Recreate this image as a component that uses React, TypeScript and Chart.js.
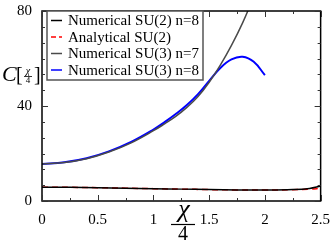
import React, { useEffect, useRef } from "react";
import { Chart, registerables } from "chart.js";

Chart.register(...registerables);

const xSU2 = [0, 0.25, 0.5, 0.75, 1.0, 1.25, 1.5, 1.75, 2.0, 2.25, 2.4, 2.5];
const numSU2n8 = [5.8, 5.75, 5.6, 5.4, 5.2, 5.0, 4.8, 4.65, 4.6, 4.8, 5.3, 6.3];
const anaSU2 = [5.8, 5.75, 5.6, 5.4, 5.2, 5.0, 4.8, 4.65, 4.6, 4.75, 5.0, 5.3];

const xSU3n7 = [0, 0.2, 0.4, 0.6, 0.8, 1.0, 1.1, 1.2, 1.3, 1.4, 1.5, 1.6, 1.7, 1.8, 1.9];
const numSU3n7 = [15.6, 16.2, 17.8, 20.6, 24.5, 29.6, 32.5, 35.6, 39.4, 44, 50, 57.2, 65.5, 75, 86];

const xSU3n8 = [0, 0.2, 0.4, 0.6, 0.8, 1.0, 1.1, 1.2, 1.3, 1.4, 1.5, 1.6, 1.7, 1.8, 1.9, 2.0];
const numSU3n8 = [15.6, 16.3, 18.0, 20.9, 24.9, 30.1, 33.2, 36.6, 40.4, 45, 50.6, 56, 59.6, 60.7, 58.6, 53];

const xTicks = [0, 0.5, 1, 1.5, 2, 2.5];
const yTicks = [0, 40, 80];

const labels = ["Numerical SU(2) n=8", "Analytical SU(2)", "Numerical SU(3) n=7", "Numerical SU(3) n=8"];
const colors = ["#000000", "#ff0000", "#4a4a4a", "#0000ff"];

const SERIF = '"Liberation Serif", "Times New Roman", serif';

const pts = (xs: number[], ys: number[]) => xs.map((x, i) => ({ x, y: ys[i] }));

const decorPlugin = {
  id: "decor",
  afterDatasetsDraw(chart: any) {
    const { ctx, chartArea: a, scales } = chart;
    const xs = scales.x, ys = scales.y;
    ctx.save();
    // frame
    ctx.strokeStyle = "#000";
    ctx.lineWidth = 1.5;
    ctx.strokeRect(a.left, a.top, a.right - a.left, a.bottom - a.top);
    // ticks
    ctx.lineWidth = 1;
    ctx.strokeStyle = "#333";
    const xStep = (xTicks[1] - xTicks[0]) / 2;
    for (let v = xs.min; v <= xs.max + 1e-9; v += xStep) {
      const px = Math.round(xs.getPixelForValue(v)) + 0.5;
      const major = xTicks.some((t) => Math.abs(t - v) < 1e-6);
      const len = major ? 6 : 3;
      ctx.beginPath();
      ctx.moveTo(px, a.bottom); ctx.lineTo(px, a.bottom - len);
      ctx.moveTo(px, a.top); ctx.lineTo(px, a.top + len);
      ctx.stroke();
    }
    const yStep = (yTicks[1] - yTicks[0]) / 6;
    for (let i = 0; i <= 12; i++) {
      const v = ys.min + i * yStep;
      const py = Math.round(ys.getPixelForValue(v)) + 0.5;
      const major = i % 6 === 0;
      const len = major ? 6 : 3;
      ctx.beginPath();
      ctx.moveTo(a.left, py); ctx.lineTo(a.left + len, py);
      ctx.moveTo(a.right, py); ctx.lineTo(a.right - len, py);
      ctx.stroke();
    }
    // legend
    const lx = 47, ly = 11, lw = 156, lh = 69;
    ctx.fillStyle = "#fff";
    ctx.fillRect(lx, ly, lw, lh);
    ctx.strokeStyle = "#555";
    ctx.lineWidth = 1.5;
    ctx.strokeRect(lx, ly, lw, lh);
    ctx.font = `15px ${SERIF}`;
    ctx.textBaseline = "middle";
    ctx.textAlign = "left";
    const rows = [20.5, 37, 53.5, 70];
    labels.forEach((t, i) => {
      ctx.strokeStyle = colors[i];
      ctx.lineWidth = 1.5;
      ctx.setLineDash(i === 1 ? [5, 3] : []);
      ctx.beginPath();
      ctx.moveTo(51, rows[i]); ctx.lineTo(62, rows[i]);
      ctx.stroke();
      ctx.setLineDash([]);
      ctx.fillStyle = "#000";
      ctx.fillText(t, 68, rows[i] + 1);
    });
    // y title  C[ χ/4 ]
    ctx.fillStyle = "#000";
    ctx.textBaseline = "alphabetic";
    ctx.font = `italic 22px ${SERIF}`;
    ctx.fillText("C", 2, 81);
    ctx.font = `20px ${SERIF}`;
    ctx.fillText("[", 16, 81);
    ctx.font = `italic 10px ${SERIF}`;
    ctx.textAlign = "center";
    ctx.fillText("χ", 28, 74);
    ctx.font = `9px ${SERIF}`;
    ctx.fillText("4", 28, 83);
    ctx.strokeStyle = "#000";
    ctx.lineWidth = 0.8;
    ctx.beginPath(); ctx.moveTo(24, 76.5); ctx.lineTo(32, 76.5); ctx.stroke();
    ctx.textAlign = "left";
    ctx.font = `20px ${SERIF}`;
    ctx.fillText("]", 34, 81);
    // x title χ/4
    ctx.textAlign = "center";
    ctx.font = `italic 26px ${SERIF}`;
    ctx.fillText("χ", 184, 217);
    ctx.lineWidth = 1.2;
    ctx.beginPath(); ctx.moveTo(171, 224.5); ctx.lineTo(195, 224.5); ctx.stroke();
    ctx.font = `20px ${SERIF}`;
    ctx.fillText("4", 183, 240);
    ctx.restore();
  },
};

export default function App() {
  const ref = useRef<HTMLCanvasElement | null>(null);
  useEffect(() => {
    if (!ref.current) return;
    const chart = new Chart(ref.current, {
      type: "line",
      data: {
        datasets: [
          { label: labels[2], data: pts(xSU3n7, numSU3n7), borderColor: colors[2], borderWidth: 1.5, pointRadius: 0, tension: 0.4 },
          { label: labels[3], data: pts(xSU3n8, numSU3n8), borderColor: colors[3], borderWidth: 2, pointRadius: 0, tension: 0.4 },
          { label: labels[0], data: pts(xSU2, numSU2n8), borderColor: colors[0], borderWidth: 1.5, pointRadius: 0, tension: 0.4 },
          { label: labels[1], data: pts(xSU2, anaSU2), borderColor: colors[1], borderWidth: 1.5, borderDash: [6, 4], pointRadius: 0, tension: 0.4 },
        ],
      },
      options: {
        animation: false,
        responsive: false,
        layout: { padding: { top: 5, right: 9, left: 0, bottom: 0 } },
        plugins: { legend: { display: false }, tooltip: { enabled: false } },
        scales: {
          x: {
            type: "linear",
            min: 0,
            max: 2.5,
            grid: { display: false },
            border: { display: false },
            afterBuildTicks: (s: any) => { s.ticks = xTicks.map((v) => ({ value: v })); },
            afterFit: (s: any) => { s.height = 42; },
            ticks: { color: "#000", font: { family: SERIF, size: 15 }, padding: 2, maxRotation: 0, autoSkip: false, callback: (v: any) => String(v) },
          },
          y: {
            type: "linear",
            min: 0,
            max: 80,
            grid: { display: false },
            border: { display: false },
            afterBuildTicks: (s: any) => { s.ticks = yTicks.map((v) => ({ value: v })); },
            afterFit: (s: any) => { s.width = 42; },
            ticks: { color: "#000", font: { family: SERIF, size: 15 }, padding: 2, callback: (v: any) => String(v) },
          },
        },
      },
      plugins: [decorPlugin],
    } as any);
    return () => chart.destroy();
  }, []);
  return (
    <div style={{ position: "fixed", left: 0, top: 0, width: 332, height: 243, background: "#fff" }}>
      <canvas ref={ref} width={332} height={243} style={{ width: 332, height: 243 }} />
    </div>
  );
}
